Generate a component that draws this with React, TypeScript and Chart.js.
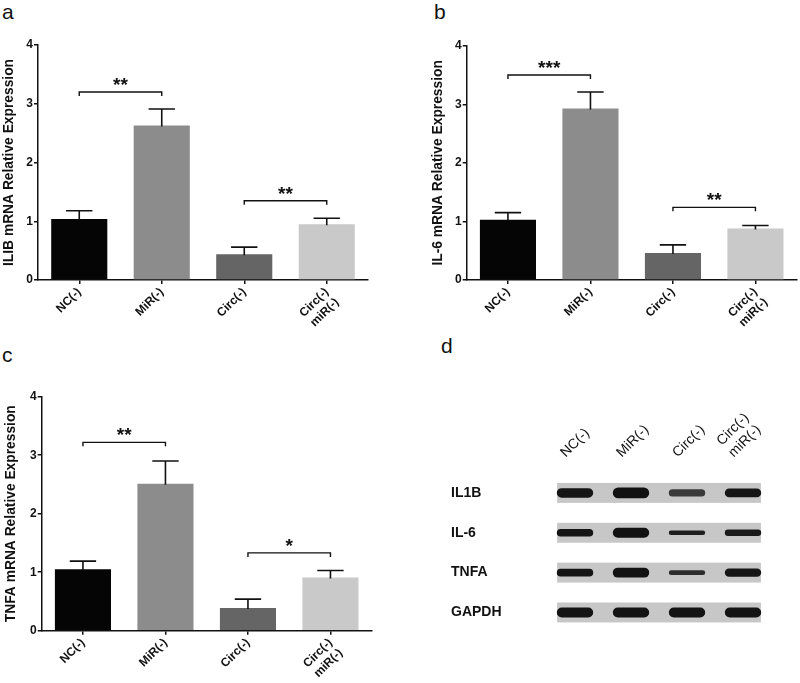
import React, { useEffect, useRef } from "react";
import { Chart, registerables } from "chart.js";

Chart.register(...registerables);

// ---------- data ----------
const groups: (string | string[])[] = ["NC(-)", "MiR(-)", "Circ(-)", ["Circ(-)", "miR(-)"]];
const yTickValues = [0, 1, 2, 3, 4];

const il1bMean = [1.04, 2.63, 0.44, 0.95];
const il1bErr = [0.14, 0.28, 0.12, 0.1];
const il1bSig = [
  { from: 0, to: 1, level: 3.2, label: "**" },
  { from: 2, to: 3, level: 1.35, label: "**" },
];

const il6Mean = [1.03, 2.93, 0.46, 0.88];
const il6Err = [0.12, 0.28, 0.14, 0.05];
const il6Sig = [
  { from: 0, to: 1, level: 3.5, label: "***" },
  { from: 2, to: 3, level: 1.24, label: "**" },
];

const tnfaMean = [1.05, 2.51, 0.39, 0.91];
const tnfaErr = [0.14, 0.39, 0.15, 0.12];
const tnfaSig = [
  { from: 0, to: 1, level: 3.22, label: "**" },
  { from: 2, to: 3, level: 1.33, label: "*" },
];

// western blot (band density, in row units)
const lanes: (string | string[])[] = ["NC(-)", "MiR(-)", "Circ(-)", ["Circ(-)", "miR(-)"]];
const proteins = ["IL1B", "IL-6", "TNFA", "GAPDH"];
const il1bBand = [0.24, 0.27, 0.18, 0.22];
const il6Band = [0.19, 0.25, 0.11, 0.16];
const tnfaBand = [0.19, 0.25, 0.12, 0.21];
const gapdhBand = [0.25, 0.25, 0.25, 0.25];

// ---------- styles ----------
const FONT = "'Liberation Sans', Arial, Helvetica, sans-serif";
const INK = "#111111";
const barColors = ["#050505", "#8c8c8c", "#656565", "#c9c9c9"];
const bandShades = [
  ["#151515", "#121212", "#3a3a3a", "#161616"],
  ["#151515", "#121212", "#1e1e1e", "#1a1a1a"],
  ["#151515", "#121212", "#2c2c2c", "#161616"],
  ["#141414", "#141414", "#141414", "#141414"],
];

type Sig = { from: number; to: number; level: number; label: string };

function errorPlugin(err: number[]) {
  return {
    id: "errbars",
    afterDatasetsDraw(chart: any) {
      const { ctx } = chart;
      const y = chart.scales.y;
      const meta = chart.getDatasetMeta(0);
      const data = chart.data.datasets[0].data as number[];
      ctx.save();
      ctx.strokeStyle = INK;
      ctx.lineWidth = 1.6;
      meta.data.forEach((bar: any, i: number) => {
        const top = y.getPixelForValue(data[i] + err[i]);
        const half = bar.width * 0.235;
        ctx.beginPath();
        ctx.moveTo(bar.x, bar.y + 1);
        ctx.lineTo(bar.x, top);
        ctx.moveTo(bar.x - half, top);
        ctx.lineTo(bar.x + half, top);
        ctx.stroke();
      });
      ctx.restore();
    },
  };
}

function sigPlugin(sig: Sig[]) {
  return {
    id: "sig",
    afterDatasetsDraw(chart: any) {
      const { ctx } = chart;
      const { x, y } = chart.scales;
      ctx.save();
      ctx.strokeStyle = INK;
      ctx.fillStyle = INK;
      ctx.lineWidth = 1.4;
      sig.forEach((s) => {
        const x1 = x.getPixelForValue(s.from);
        const x2 = x.getPixelForValue(s.to);
        const yy = y.getPixelForValue(s.level);
        ctx.beginPath();
        ctx.moveTo(x1, yy + 4);
        ctx.lineTo(x1, yy);
        ctx.lineTo(x2, yy);
        ctx.lineTo(x2, yy + 4);
        ctx.stroke();
        ctx.font = `bold 19px ${FONT}`;
        ctx.textAlign = "center";
        ctx.textBaseline = "alphabetic";
        const m = ctx.measureText(s.label);
        const cy = yy - 10.5;
        ctx.fillText(s.label, (x1 + x2) / 2, cy + (m.actualBoundingBoxAscent - m.actualBoundingBoxDescent) / 2);
      });
      ctx.restore();
    },
  };
}

type PanelProps = {
  left: number;
  top: number;
  w: number;
  h: number;
  mean: number[];
  err: number[];
  sig: Sig[];
  title: string;
  pad: { left: number; right: number; top: number; bottom: number };
  yWidth: number;
  xHeight: number;
};

function BarPanel(p: PanelProps) {
  const ref = useRef<HTMLCanvasElement>(null);
  useEffect(() => {
    const chart = new Chart(ref.current!, {
      type: "bar",
      data: {
        labels: groups as any,
        datasets: [
          {
            data: p.mean,
            backgroundColor: barColors,
            borderWidth: 0,
            barPercentage: 0.68,
            categoryPercentage: 1,
          },
        ],
      },
      options: {
        animation: false,
        responsive: false,
        maintainAspectRatio: false,
        devicePixelRatio: 1,
        layout: { padding: p.pad },
        plugins: { legend: { display: false }, tooltip: { enabled: false } },
        scales: {
          x: {
            grid: {
              display: true,
              drawOnChartArea: false,
              offset: false,
              drawTicks: true,
              tickLength: 4,
              color: INK,
              lineWidth: 1.5,
            },
            border: { display: true, color: INK, width: 1.5 },
            ticks: {
              color: INK,
              font: { family: FONT, size: 12, weight: "bold" },
              minRotation: 45,
              maxRotation: 45,
              padding: 1,
              autoSkip: false,
            },
            afterFit: (s: any) => {
              s.height = p.xHeight;
            },
          },
          y: {
            min: 0,
            max: 4,
            afterBuildTicks: (s: any) => {
              s.ticks = yTickValues.map((v) => ({ value: v }));
            },
            grid: {
              display: true,
              drawOnChartArea: false,
              drawTicks: true,
              tickLength: 4,
              color: INK,
              lineWidth: 1.5,
            },
            border: { display: true, color: INK, width: 1.5 },
            ticks: {
              color: INK,
              font: { family: FONT, size: 12, weight: "bold" },
              padding: 1,
            },
            title: {
              display: true,
              text: p.title,
              color: INK,
              font: { family: FONT, size: 13.8, weight: "bold" },
              padding: 0,
            },
            afterFit: (s: any) => {
              s.width = p.yWidth;
            },
          },
        },
      } as any,
      plugins: [errorPlugin(p.err), sigPlugin(p.sig)],
    });
    return () => chart.destroy();
  }, []);
  return (
    <canvas
      ref={ref}
      width={p.w}
      height={p.h}
      style={{ position: "absolute", left: p.left, top: p.top, width: p.w, height: p.h }}
    />
  );
}

const stripPlugin = {
  id: "strips",
  beforeDatasetsDraw(chart: any) {
    const { ctx } = chart;
    const { x, y } = chart.scales;
    ctx.save();
    ctx.fillStyle = "#c7c7c7";
    proteins.forEach((_, i) => {
      const x0 = x.getPixelForValue(-0.32);
      const x1 = x.getPixelForValue(lanes.length - 1 + 0.32);
      const y0 = y.getPixelForValue(i - 0.25);
      const y1 = y.getPixelForValue(i + 0.25);
      ctx.fillRect(x0, Math.min(y0, y1), x1 - x0, Math.abs(y1 - y0));
    });
    ctx.restore();
  },
};

function BlotPanel() {
  const ref = useRef<HTMLCanvasElement>(null);
  useEffect(() => {
    const bands = [il1bBand, il6Band, tnfaBand, gapdhBand];
    const chart = new Chart(ref.current!, {
      type: "bar",
      data: {
        labels: lanes as any,
        datasets: bands.map((band, row) => ({
          data: band.map((t) => [row - t / 2, row + t / 2]),
          backgroundColor: bandShades[row],
          borderWidth: 0,
          borderRadius: 30,
          borderSkipped: false,
          grouped: false,
          barPercentage: 0.65,
          categoryPercentage: 1,
        })) as any,
      },
      options: {
        animation: false,
        responsive: false,
        maintainAspectRatio: false,
        devicePixelRatio: 1,
        layout: { padding: { left: 31, right: 29, top: 0, bottom: 50.6 } },
        plugins: { legend: { display: false }, tooltip: { enabled: false } },
        scales: {
          x: {
            position: "top",
            grid: { display: false, drawTicks: false },
            border: { display: false },
            ticks: {
              color: INK,
              font: { family: FONT, size: 14 },
              minRotation: 45,
              maxRotation: 45,
              padding: 12,
              autoSkip: false,
            },
            afterFit: (s: any) => {
              s.height = 73;
            },
          },
          y: {
            type: "linear",
            reverse: true,
            min: -0.5,
            max: 3.5,
            grid: { display: false, drawTicks: false },
            border: { display: false },
            afterBuildTicks: (s: any) => {
              s.ticks = proteins.map((_, i) => ({ value: i }));
            },
            ticks: {
              color: INK,
              crossAlign: "far",
              font: { family: FONT, size: 14, weight: "bold" },
              callback: (v: any) => proteins[v as number],
            },
            afterFit: (s: any) => {
              s.width = 96;
            },
          },
        },
      } as any,
      plugins: [stripPlugin],
    });
    return () => chart.destroy();
  }, []);
  return (
    <canvas
      ref={ref}
      width={380}
      height={283}
      style={{ position: "absolute", left: 420, top: 400, width: 380, height: 283 }}
    />
  );
}

const letterStyle: React.CSSProperties = {
  position: "absolute",
  fontFamily: FONT,
  fontSize: 21,
  lineHeight: 1,
  color: INK,
};

export default function App() {
  return (
    <div
      style={{
        position: "fixed",
        left: 0,
        top: 0,
        width: 800,
        height: 683,
        background: "#ffffff",
        overflow: "hidden",
      }}
    >
      <div style={{ ...letterStyle, left: 2, top: 1 }}>a</div>
      <div style={{ ...letterStyle, left: 434, top: 1 }}>b</div>
      <div style={{ ...letterStyle, left: 2, top: 344 }}>c</div>
      <div style={{ ...letterStyle, left: 441, top: 335 }}>d</div>

      <BarPanel
        left={0}
        top={0}
        w={400}
        h={340}
        mean={il1bMean}
        err={il1bErr}
        sig={il1bSig}
        title="ILIB mRNA Relative Expression"
        pad={{ left: 1, right: 32, top: 45, bottom: 0 }}
        yWidth={37}
        xHeight={60}
      />
      <BarPanel
        left={400}
        top={0}
        w={400}
        h={340}
        mean={il6Mean}
        err={il6Err}
        sig={il6Sig}
        title="IL-6 mRNA Relative Expression"
        pad={{ left: 30, right: 3.3, top: 45.7, bottom: 0 }}
        yWidth={36.7}
        xHeight={60}
      />
      <BarPanel
        left={0}
        top={340}
        w={400}
        h={343}
        mean={tnfaMean}
        err={tnfaErr}
        sig={tnfaSig}
        title="TNFA mRNA Relative Expression"
        pad={{ left: 3, right: 28.3, top: 56.7, bottom: 0 }}
        yWidth={38.7}
        xHeight={52.3}
      />
      <BlotPanel />
    </div>
  );
}
